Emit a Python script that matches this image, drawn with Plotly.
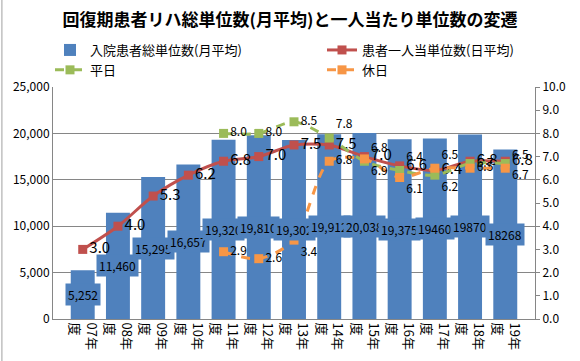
import plotly.graph_objects as go

categories = ["07年度", "08年度", "09年度", "10年度", "11年度", "12年度", "13年度",
              "14年度", "15年度", "16年度", "17年度", "18年度", "19年度"]
tick_labels = ["07年<br>度", "08年<br>度", "09年<br>度", "10年<br>度", "11年<br>度", "12年<br>度",
               "13年<br>度", "14年<br>度", "15年<br>度", "16年<br>度", "17年<br>度", "18年<br>度", "19年<br>度"]
total_units = [5252, 11460, 15295, 16657, 19320, 19810, 19302, 19912, 20038, 19375, 19460, 19870, 18268]
total_labels = ["5,252", "11,460", "15,295", "16,657", "19,320", "19,810", "19,302",
                "19,912", "20,038", "19,375", "19460", "19870", "18268"]
per_patient = [3.0, 4.0, 5.3, 6.2, 6.8, 7.0, 7.5, 7.5, 7.0, 6.6, 6.4, 6.8, 6.8]
weekday = [None, None, None, None, 8.0, 8.0, 8.5, 7.8, 6.8, 6.4, 6.2, 6.7, 6.7]
holiday = [None, None, None, None, 2.9, 2.6, 3.4, 6.8, 6.9, 6.1, 6.5, 6.5, 6.5]

weekday_pos = ["middle right"] * 4 + ["middle right", "middle right", "middle right", "top right",
                                      "top right", "top right", "bottom right", "middle right", "bottom right"]
holiday_pos = ["middle right"] * 4 + ["middle right", "middle right", "bottom right", "middle right",
                                      "bottom right", "bottom right", "top right", "middle right", "top right"]

BLUE = "#4F81BD"
RED = "#C0504D"
GREEN = "#9BBB59"
ORANGE = "#F79646"
GRID = "#868686"
FONT = "Noto Sans CJK JP, sans-serif"

fig = go.Figure()
fig.add_trace(go.Bar(x=categories, y=total_units, name="入院患者総単位数(月平均)",
                     marker=dict(color=BLUE, line=dict(width=0)), yaxis="y", legend="legend"))
fig.add_trace(go.Scatter(x=categories, y=per_patient, name="患者一人当単位数(日平均)",
                         mode="lines+markers+text", yaxis="y2", legend="legend2",
                         line=dict(color=RED, width=3, shape="spline", smoothing=0.8),
                         marker=dict(symbol="square", size=9, color=RED),
                         text=[f"{v:.1f}" for v in per_patient], textposition="middle right",
                         textfont=dict(size=15, color="#000", family=FONT)))
fig.add_trace(go.Scatter(x=categories, y=weekday, name="平日",
                         mode="lines+markers+text", yaxis="y2", legend="legend",
                         line=dict(color=GREEN, width=3, dash="dash", shape="spline", smoothing=0.8),
                         marker=dict(symbol="square", size=9, color=GREEN),
                         text=[f"{v:.1f}" if v is not None else "" for v in weekday],
                         textposition=weekday_pos,
                         textfont=dict(size=12, color="#000", family=FONT)))
fig.add_trace(go.Scatter(x=categories, y=holiday, name="休日",
                         mode="lines+markers+text", yaxis="y2", legend="legend2",
                         line=dict(color=ORANGE, width=3, dash="dash", shape="spline", smoothing=0.8),
                         marker=dict(symbol="square", size=9, color=ORANGE),
                         text=[f"{v:.1f}" if v is not None else "" for v in holiday],
                         textposition=holiday_pos,
                         textfont=dict(size=12, color="#000", family=FONT)))

for c, v, lab in zip(categories, total_units, total_labels):
    fig.add_annotation(x=c, y=v / 2, xref="x", yref="y", text=lab, showarrow=False,
                       bgcolor=BLUE, borderpad=2, font=dict(size=12, color="#000", family=FONT))

# chart-area left border
fig.add_shape(type="line", xref="paper", yref="paper", x0=-0.106, x1=-0.106, y0=-0.2, y1=1.4,
              line=dict(color="#A0A0A0", width=1))

legend_common = dict(orientation="v", yanchor="top", xanchor="left", tracegroupgap=0,
                     font=dict(size=13, family=FONT), bgcolor="rgba(0,0,0,0)", borderwidth=0)

fig.update_layout(
    width=580, height=361,
    margin=dict(l=53, r=45, t=87, b=42),
    paper_bgcolor="white", plot_bgcolor="white",
    font=dict(family=FONT, size=12, color="#000"),
    title=dict(text="<b>回復期患者リハ総単位数(月平均)と一人当たり単位数の変遷</b>",
               x=0.5, xref="container", xanchor="center", y=1 - 20 / 361, yref="container",
               yanchor="middle", font=dict(size=17, family=FONT, color="#000")),
    bargap=0.32,
    showlegend=True,
    legend=dict(x=(50 - 53) / 482, y=(319 - 35) / 232, **legend_common),
    legend2=dict(x=(322 - 53) / 482, y=(319 - 35) / 232, **legend_common),
    xaxis=dict(type="category", tickvals=categories, ticktext=tick_labels, tickangle=90,
               showline=True, linecolor=GRID, linewidth=1, ticks="", showgrid=False,
               tickfont=dict(size=13, family=FONT)),
    yaxis=dict(range=[0, 25000], dtick=5000, tickformat=",", showline=True, linecolor=GRID,
               gridcolor=GRID, gridwidth=1, ticks="", zeroline=False,
               tickfont=dict(size=12, family=FONT)),
    yaxis2=dict(range=[0, 10], dtick=1, tickformat=".1f", overlaying="y", side="right",
                showline=True, linecolor=GRID, showgrid=False, ticks="outside", ticklen=4,
                tickcolor=GRID, zeroline=False, tickfont=dict(size=12, family=FONT)),
)

fig.write_html("out.html", config={"displayModeBar": False},
               post_script="document.body.style.margin='0';")
